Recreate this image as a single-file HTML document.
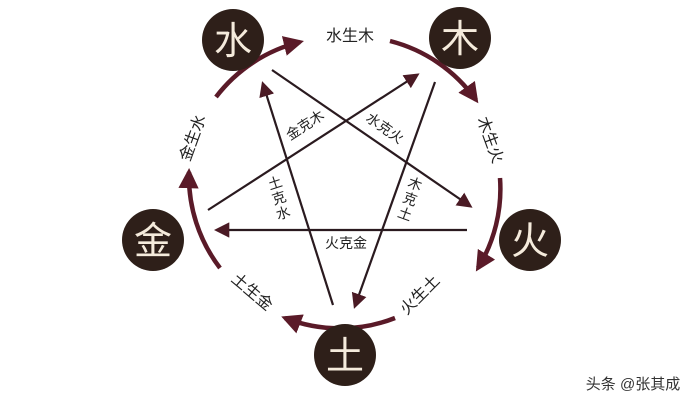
<!DOCTYPE html>
<html><head><meta charset="utf-8"><style>
html,body{margin:0;padding:0;background:#fff;}
svg{display:block;}
text{font-family:"Liberation Sans","Noto Sans CJK SC",sans-serif;}
</style></head><body>
<svg width="700" height="408" viewBox="0 0 700 408" xmlns="http://www.w3.org/2000/svg">
<defs>
<marker id="a" viewBox="0 0 10 10" refX="8" refY="5" markerWidth="4.5" markerHeight="4.5" orient="auto" markerUnits="strokeWidth"><path d="M0,0 L10,5 L0,10 z" fill="#5a1a28"/></marker>
<marker id="b" viewBox="0 0 10 10" refX="8" refY="5" markerWidth="7" markerHeight="7" orient="auto" markerUnits="strokeWidth"><path d="M0,0 L10,5 L0,10 z" fill="#4a1a24"/></marker>
</defs>
<g fill="none" stroke="#5a1a28" stroke-width="4.5" marker-end="url(#a)">
<path d="M216,97 A151,151 0 0 1 300,42"/>
<path d="M390,41 A151,151 0 0 1 476,100"/>
<path d="M500,178 A151,151 0 0 1 478,268"/>
<path d="M395,318 A151,151 0 0 1 285,318"/>
<path d="M220,268 A151,151 0 0 1 189,172"/>
</g>
<g stroke="#2a1a1f" stroke-width="2.2" marker-end="url(#b)" fill="none">
<line x1="272" y1="70" x2="470" y2="206"/>
<line x1="208" y1="210" x2="417" y2="75"/>
<line x1="435" y1="82" x2="355" y2="306"/>
<line x1="333" y1="305" x2="263" y2="84"/>
<line x1="467" y1="230" x2="217" y2="230"/>
</g>
<g fill="#2e1f19">
<circle cx="233" cy="40" r="31"/>
<circle cx="460" cy="38" r="31"/>
<circle cx="530" cy="240" r="31"/>
<circle cx="345" cy="355" r="31"/>
<circle cx="153" cy="240" r="31"/>
</g>
<g fill="#f5ebdc" font-size="38" text-anchor="middle">
<text x="233" y="54">水</text>
<text x="460" y="52">木</text>
<text x="530" y="254">火</text>
<text x="345" y="369">土</text>
<text x="153" y="254">金</text>
</g>
<g fill="#222" font-size="16" text-anchor="middle">
<text x="350" y="41">水生木</text>
<text transform="translate(193,138) rotate(-70)" y="5">金生水</text>
<text transform="translate(490,140) rotate(70)" y="5">木生火</text>
<text transform="translate(420,295) rotate(-45)" y="5">火生土</text>
<text transform="translate(252,292) rotate(40)" y="5">土生金</text>
</g>
<g fill="#222" font-size="14" text-anchor="middle">
<text transform="translate(305,125) rotate(-33)" y="5">金克木</text>
<text transform="translate(385,128) rotate(35)" y="5">水克火</text>
<text x="346" y="248">火克金</text>
<text transform="translate(275,183) rotate(-18)" y="5">土</text>
<text transform="translate(279,198) rotate(-18)" y="5">克</text>
<text transform="translate(283,213) rotate(-18)" y="5">水</text>
<text transform="translate(415,184) rotate(20)" y="5">木</text>
<text transform="translate(410,199) rotate(20)" y="5">克</text>
<text transform="translate(405,214) rotate(20)" y="5">土</text>
</g>
<text x="633" y="389" fill="#333" font-size="15" text-anchor="middle">头条 @张其成</text>
</svg>
</body></html>
